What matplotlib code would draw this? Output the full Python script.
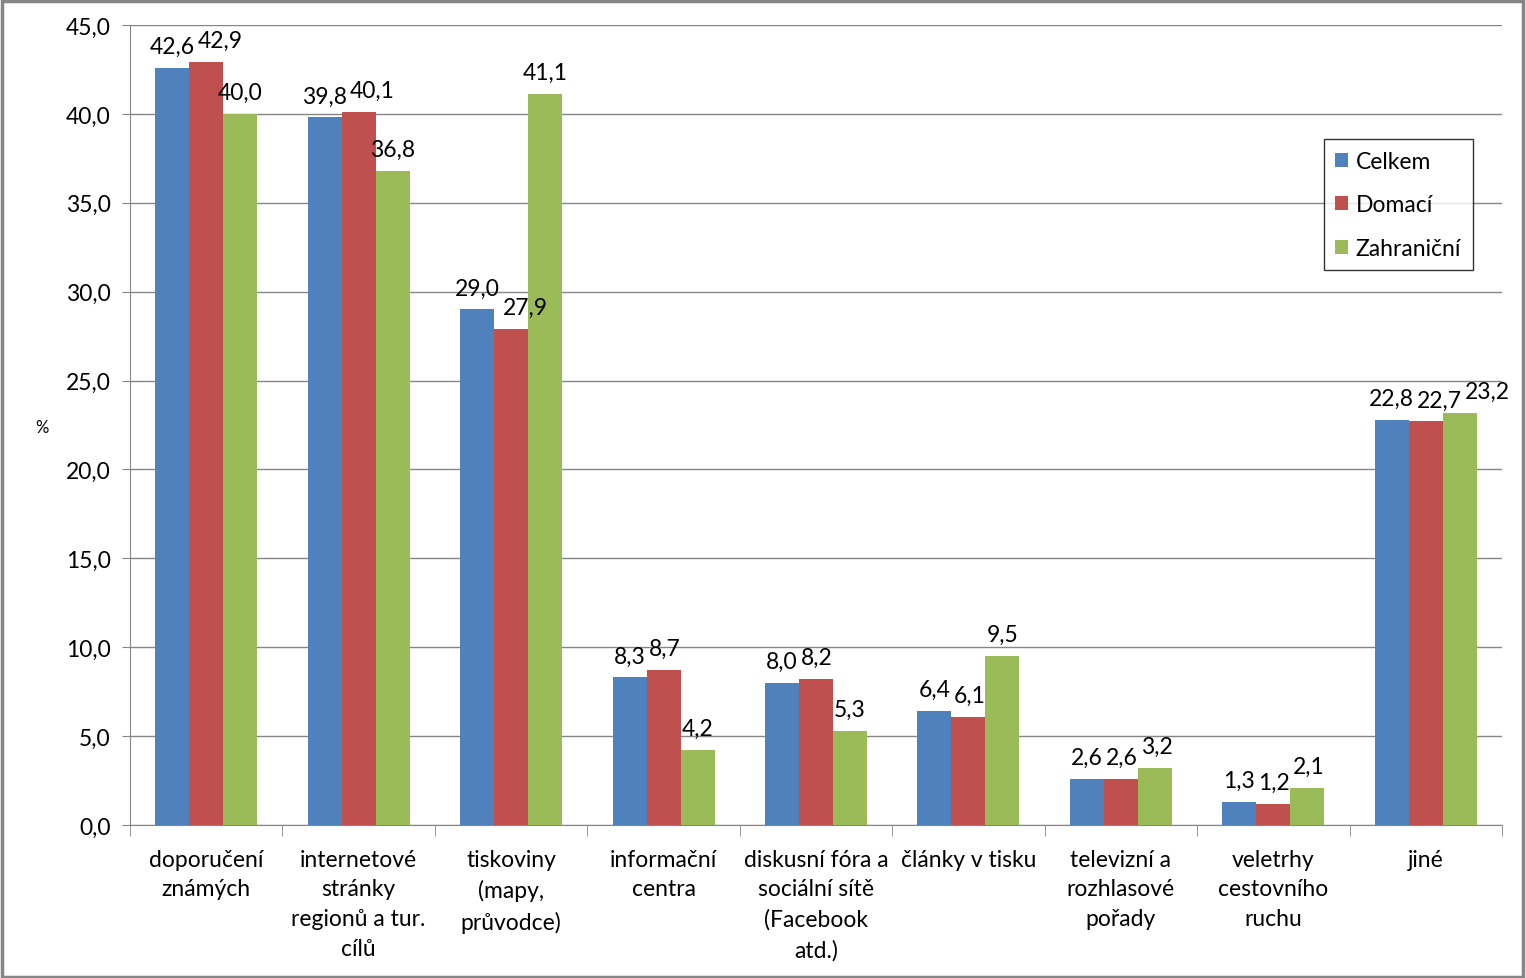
import numpy as np
import matplotlib
matplotlib.use("Agg")
import matplotlib.pyplot as plt
from matplotlib.ticker import FuncFormatter, FixedLocator
from matplotlib.transforms import offset_copy

plt.rcParams['font.family'] = ['Lato', 'DejaVu Sans']

kategorie = ["doporučení\nznámých", "internetové\nstránky\nregionů a tur.\ncílů",
             "tiskoviny\n(mapy,\nprůvodce)", "informační\ncentra",
             "diskusní fóra a\nsociální sítě\n(Facebook\natd.)", "články v tisku",
             "televizní a\nrozhlasové\npořady", "veletrhy\ncestovního\nruchu", "jiné"]
celkem = [42.6, 39.8, 29.0, 8.3, 8.0, 6.4, 2.6, 1.3, 22.8]
domaci = [42.9, 40.1, 27.9, 8.7, 8.2, 6.1, 2.6, 1.2, 22.7]
zahranicni = [40.0, 36.8, 41.1, 4.2, 5.3, 9.5, 3.2, 2.1, 23.2]
serie = ["Celkem", "Domací", "Zahraniční"]
barvy = ["#4F81BD", "#C0504D", "#9BBB59"]

fig = plt.figure(figsize=(15.26, 9.79), dpi=100)
ax = fig.add_axes([130/1526, 1 - 826/979, 1372/1526, 800/979])

x = np.arange(len(kategorie))
w = 0.223
popisky = [[] for _ in kategorie]
for i, (vals, nazev, b) in enumerate(zip([celkem, domaci, zahranicni], serie, barvy)):
    pos = x + (i - 1) * w
    ax.bar(pos, vals, width=w, color=b, label=nazev, zorder=3)
    for k, (px, v) in enumerate(zip(pos, vals)):
        t = ax.text(px, v, f"{v:.1f}".replace(".", ","), ha="center", va="bottom",
                    fontsize=16.5, zorder=4,
                    transform=offset_copy(ax.transData, fig=fig, y=11, units="dots"))
        popisky[k].append(t)

ax.set_xlim(-0.5, len(kategorie) - 0.5)
ax.set_ylim(0, 45)
ax.set_yticks(np.arange(0, 46, 5))
ax.yaxis.set_major_formatter(FuncFormatter(lambda v, p: f"{v:.1f}".replace(".", ",")))
ax.grid(axis="y", color="#868686", linewidth=1, zorder=0)
ax.set_xticks(x)
ax.set_xticklabels(kategorie, fontsize=16.5, linespacing=1.52, va="top")
ax.tick_params(axis="x", length=0, pad=17)
ax.xaxis.set_minor_locator(FixedLocator(np.arange(-0.5, len(kategorie), 1)))
ax.tick_params(axis="x", which="minor", length=8, color="#868686", direction="out")
ax.tick_params(axis="y", length=6, color="#868686", labelsize=16.5, pad=8)
for s in ["top", "right"]:
    ax.spines[s].set_visible(False)
for s in ["left", "bottom"]:
    ax.spines[s].set_color("#868686")

fig.text(42/1526, 1 - 428/979, "%", fontsize=12, ha="center", va="center")

leg = ax.legend(loc="upper left", bbox_to_anchor=(0.870, 0.857), fontsize=16.5,
                frameon=True, fancybox=False, edgecolor="black", handlelength=0.55,
                handleheight=0.55, handletextpad=0.35, labelspacing=0.98,
                borderpad=0.5, borderaxespad=0)
leg.get_frame().set_linewidth(1)

# posun prekryvajicich se popisku doprava
fig.canvas.draw()
r = fig.canvas.get_renderer()
for skupina in popisky:
    for a, b in zip(skupina, skupina[1:]):
        ea = a.get_window_extent(r)
        eb = b.get_window_extent(r)
        prekryv = ea.x1 + 3 - eb.x0
        if prekryv > 0 and ea.y0 < eb.y1 and eb.y0 < ea.y1:
            b.set_transform(offset_copy(b.get_transform(), fig=fig, x=prekryv, units="dots"))

fig.patches.append(plt.Rectangle((0.001, 0.001), 0.997, 0.997, transform=fig.transFigure,
                                 fill=False, edgecolor="#868686", linewidth=2.5))

fig.savefig("out.png", dpi=100)
